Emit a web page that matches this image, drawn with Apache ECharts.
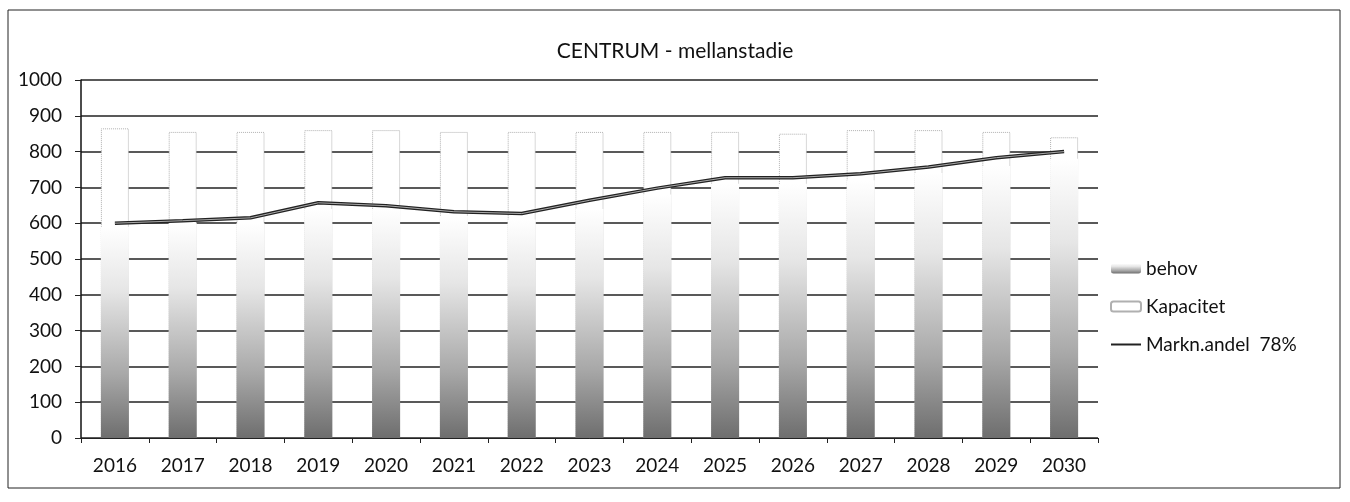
<!DOCTYPE html>
<html>
<head>
<meta charset="utf-8">
<script src="https://cdn.jsdelivr.net/npm/echarts@6/dist/echarts.min.js"></script>
<style>
  html, body { margin: 0; padding: 0; background: #fff; }
  #chart { width: 1350px; height: 502px; }
</style>
</head>
<body>
<div id="chart"></div>
<script>
const years = ['2016', '2017', '2018', '2019', '2020', '2021', '2022', '2023',
  '2024', '2025', '2026', '2027', '2028', '2029', '2030'];

// speckled columns (estimated where the dark fill fades out)
const behov = [590, 600, 600, 640, 640, 620, 610, 640, 680, 710, 710, 720, 740, 760, 780];

// faint dotted column outline
const kapacitet = [865, 855, 855, 860, 860, 855, 855, 855, 855, 855, 850, 860, 860, 855, 840];

// Markn.andel 78%
const marknandel = [600, 607, 615, 657, 649, 632, 627, 664, 698, 727, 727, 738, 757, 783, 800];

const chart = echarts.init(document.getElementById('chart'));

const font = 'Lato, "Noto Sans", sans-serif';

const option = {
  animation: false,
  textStyle: { fontFamily: font },
  title: {
    text: 'CENTRUM - mellanstadie',
    left: 'center',
    top: 36,
    textStyle: { fontSize: 21, fontWeight: 'normal', color: '#111', fontFamily: font }
  },
  graphic: [{
    type: 'rect',
    shape: { x: 8, y: 10, width: 1332, height: 478 },
    style: { fill: 'none', stroke: '#222', lineWidth: 1 },
    silent: true
  }],
  legend: {
    orient: 'vertical',
    left: 1105,
    top: 254,
    itemGap: 19,
    itemWidth: 30,
    itemHeight: 10,
    textStyle: { fontSize: 19, color: '#111', fontFamily: font },
    data: [
      { name: 'behov' },
      { name: 'Kapacitet' },
      { name: 'Markn.andel  78%', icon: 'path://M0,4L30,4L30,6L0,6Z' }
    ]
  },
  grid: {
    left: 81,
    right: 252,
    top: 80,
    bottom: 64
  },
  xAxis: {
    type: 'category',
    data: years,
    axisLine: { lineStyle: { color: '#222', width: 1 } },
    axisTick: { show: true, length: 5, lineStyle: { color: '#222' } },
    axisLabel: { fontSize: 19, color: '#111', margin: 18 }
  },
  yAxis: {
    type: 'value',
    min: 0,
    max: 1000,
    interval: 100,
    axisLine: { show: true, lineStyle: { color: '#111', width: 1.5 } },
    axisTick: { show: true, length: 6, lineStyle: { color: '#222' } },
    axisLabel: { fontSize: 19, color: '#111', margin: 19, formatter: v => String(v) },
    splitLine: { lineStyle: { color: '#222', width: 1.5 } }
  },
  series: [
    {
      name: 'Kapacitet',
      type: 'bar',
      data: kapacitet,
      barWidth: 28,
      itemStyle: {
        color: '#fff',
        borderColor: '#b0b0b0',
        borderWidth: 1,
        borderType: 'dotted'
      },
      z: 2
    },
    {
      name: 'behov',
      type: 'bar',
      data: behov,
      barWidth: 28,
      barGap: '-100%',
      itemStyle: {
        color: {
          type: 'linear', x: 0, y: 0, x2: 0, y2: 1,
          colorStops: [
            { offset: 0, color: '#ffffff' },
            { offset: 0.3, color: '#e6e6e6' },
            { offset: 0.7, color: '#a8a8a8' },
            { offset: 1, color: '#6e6e6e' }
          ]
        }
      },
      z: 3
    },
    {
      name: 'Markn.andel  78%',
      type: 'line',
      data: marknandel,
      symbol: 'none',
      lineStyle: { color: '#222', width: 3.5 },
      itemStyle: { color: '#222' },
      z: 5
    },
    {
      name: 'inner',
      type: 'line',
      data: marknandel,
      symbol: 'none',
      silent: true,
      lineStyle: { color: '#aaa', width: 1 },
      z: 6
    }
  ]
};

chart.setOption(option);
</script>
</body>
</html>
